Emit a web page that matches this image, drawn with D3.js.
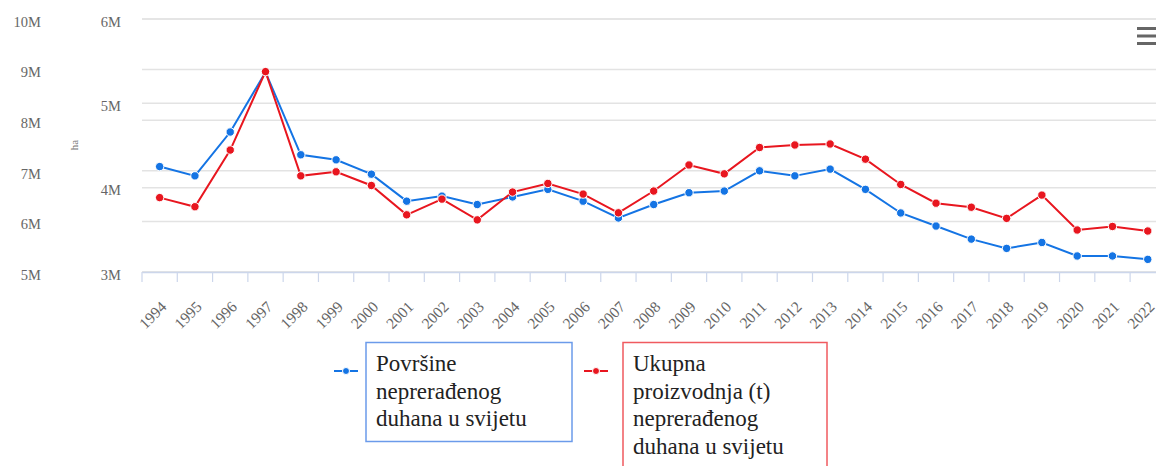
<!DOCTYPE html>
<html><head><meta charset="utf-8">
<script src="https://cdn.jsdelivr.net/npm/d3@7"></script>
<style>html,body{margin:0;padding:0;background:#fff;overflow:hidden}</style>
</head><body><svg id="c" width="1156" height="466"></svg>
<script>
const years = ["1994","1995","1996","1997","1998","1999","2000","2001","2002","2003","2004","2005","2006","2007","2008","2009","2010","2011","2012","2013","2014","2015","2016","2017","2018","2019","2020","2021","2022"];
const areaHa = [4.25,4.14,4.66,5.37,4.39,4.33,4.16,3.84,3.90,3.80,3.89,3.98,3.84,3.64,3.80,3.94,3.96,4.20,4.14,4.22,3.98,3.70,3.545,3.39,3.28,3.35,3.19,3.19,3.15].map(v=>v*1e6);
const prodT = [6.47,6.29,7.41,8.96,6.90,6.98,6.71,6.13,6.44,6.03,6.58,6.75,6.54,6.17,6.60,7.115,6.94,7.46,7.51,7.53,7.23,6.73,6.36,6.28,6.06,6.52,5.83,5.90,5.81].map(v=>v*1e6);
const innerTicks = [3e6,4e6,5e6,6e6];
const outerTicks = [5e6,6e6,7e6,8e6,9e6,10e6];
const seriesNames = [["Površine","neprerađenog","duhana u svijetu"],["Ukupna","proizvodnja (t)","neprerađenog","duhana u svijetu"]];
const axisTitle = "ha";

const svg = d3.select("#c");
const blue = "#1474e4", red = "#e8161f";
const font = "'Liberation Serif', 'Times New Roman', serif";
const pTop = 19, pBottom = 272, pLeft = 142, pRight = 1165.4;

const x = d3.scaleBand().domain(years).range([pLeft, pRight]).padding(0);
const yIn = d3.scaleLinear().domain([3e6, 6e6]).range([pBottom, pTop]);
const yOut = d3.scaleLinear().domain([5e6, 10e6]).range([pBottom, pTop]);
const fmt = v => (v/1e6) + "M";

svg.append("rect").attr("width",1156).attr("height",466).attr("fill","#fff");

// gridlines
const grid = svg.append("g");
const gridYs = [...innerTicks.map(t=>yIn(t)), ...outerTicks.map(t=>yOut(t))];
grid.selectAll("line").data(gridYs).join("line")
  .attr("x1", pLeft).attr("x2", 1156)
  .attr("y1", d=>d).attr("y2", d=>d)
  .attr("stroke", "#e3e3e3").attr("stroke-width", 1.5);

// x axis
const xAxis = d3.axisBottom(x).tickSize(0).tickFormat(d=>d);
const gx = svg.append("g").attr("transform", `translate(0,${pBottom})`).call(xAxis);
gx.select(".domain").attr("stroke","#ccd6eb").attr("stroke-width",1.5);
gx.selectAll(".tick text")
  .attr("font-family", font).attr("font-size", 15.5).attr("fill", "#666")
  .attr("text-anchor","end")
  .attr("transform","translate(4,32) rotate(-45)")
  .attr("dy","0.35em").attr("y",0);
// tick marks at band boundaries
const bounds = years.map(y=>x(y)).concat([pRight]);
svg.append("g").selectAll("line").data(bounds).join("line")
  .attr("x1", d=>d).attr("x2", d=>d).attr("y1", pBottom).attr("y2", pBottom+10)
  .attr("stroke", "#ccd6eb").attr("stroke-width",1.2);

// y axes
const gOut = svg.append("g").attr("transform","translate(41,0)")
  .call(d3.axisLeft(yOut).tickValues(outerTicks).tickFormat(fmt).tickSize(0));
const gIn = svg.append("g").attr("transform","translate(121,0)")
  .call(d3.axisLeft(yIn).tickValues(innerTicks).tickFormat(fmt).tickSize(0));
[gOut,gIn].forEach(g=>{
  g.select(".domain").remove();
  g.selectAll(".tick text").attr("font-family",font).attr("font-size",14.5).attr("fill","#666").attr("x",0).attr("dy","0.5em");
});
svg.append("text").attr("transform","translate(78,145) rotate(-90)")
  .attr("text-anchor","middle").attr("font-family",font).attr("font-size",11).attr("fill","#777").text(axisTitle);

// lines
const cx = d => x(d) + x.bandwidth()/2;
function drawSeries(vals, y, color){
  const line = d3.line().x((d,i)=>cx(years[i])).y(d=>y(d));
  svg.append("path").datum(vals).attr("d", line).attr("fill","none")
    .attr("stroke", color).attr("stroke-width", 2);
  svg.append("g").selectAll("circle").data(vals).join("circle")
    .attr("cx", (d,i)=>cx(years[i])).attr("cy", d=>y(d)).attr("r", 4.2)
    .attr("fill", color).attr("stroke","#fff").attr("stroke-width",1);
}
drawSeries(areaHa, yIn, blue);
drawSeries(prodT, yOut, red);

// menu icon
svg.append("g").selectAll("rect").data([27,34.5,42]).join("rect")
  .attr("x",1137).attr("y",d=>d).attr("width",20).attr("height",3).attr("fill","#666");

// legend
const legends = [
  {names: seriesNames[0], color: blue, box:"#6b9bea", sx:334, bx:366, bw:206, bh:99, tx:376},
  {names: seriesNames[1], color: red, box:"#f05a5f", sx:584, bx:623, bw:204, bh:140, tx:633}
];
legends.forEach(l=>{
  const g = svg.append("g");
  g.append("line").attr("x1",l.sx).attr("x2",l.sx+24).attr("y1",371).attr("y2",371)
    .attr("stroke",l.color).attr("stroke-width",2);
  g.append("circle").attr("cx",l.sx+12).attr("cy",371).attr("r",3.5).attr("fill",l.color).attr("stroke","#fff").attr("stroke-width",1);
  g.append("rect").attr("x",l.bx).attr("y",342.5).attr("width",l.bw).attr("height",l.bh)
    .attr("fill","none").attr("stroke",l.box).attr("stroke-width",1.5);
  g.selectAll("text").data(l.names).join("text")
    .attr("x",l.tx).attr("y",(d,i)=>371+i*27.5)
    .attr("font-family",font).attr("font-size",23).attr("fill","#222").text(d=>d);
});
</script></body></html>
